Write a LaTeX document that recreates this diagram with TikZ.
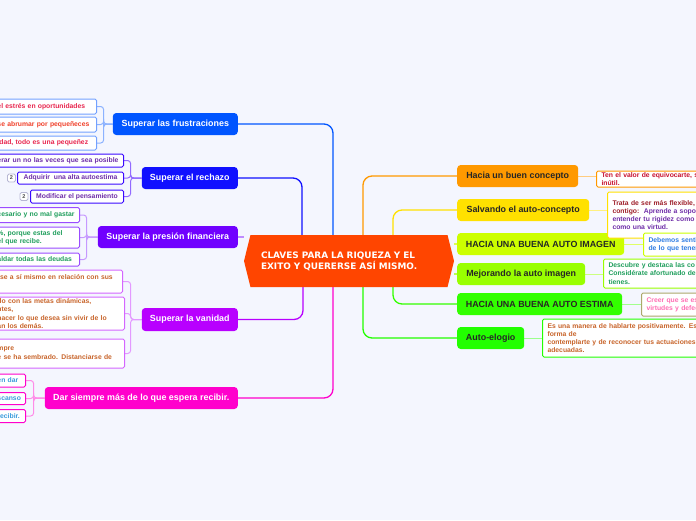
\documentclass[tikz,border=0pt]{standalone}
\usepackage{fontspec}
\setmainfont{Liberation Sans}
\newfontfamily\dejavu{DejaVu Sans}
\usepackage{tikz}
\usetikzlibrary{calc,backgrounds,shapes.symbols}

\definecolor{paper}{HTML}{F4F6FE}
\definecolor{hubc}{HTML}{FF4500}
\definecolor{frusc}{HTML}{0055FF}
\definecolor{rechc}{HTML}{1010FF}
\definecolor{presc}{HTML}{7000FF}
\definecolor{vanic}{HTML}{B800FF}
\definecolor{darc}{HTML}{FF00CC}
\definecolor{hbcc}{HTML}{FF9900}
\definecolor{salc}{HTML}{FFE100}
\definecolor{imgc}{HTML}{CCFF00}
\definecolor{mejc}{HTML}{99FF00}
\definecolor{estc}{HTML}{33FF00}
\definecolor{eloc}{HTML}{22FF00}
% leaf text colours
\definecolor{tred}{HTML}{E8264E}
\definecolor{torange}{HTML}{F0402A}
\definecolor{tpurple}{HTML}{6E2DA8}
\definecolor{tgreen}{HTML}{1F9E5C}
\definecolor{tbrown}{HTML}{C8642A}
\definecolor{tblue}{HTML}{3A9BDC}
\definecolor{tcrimson}{HTML}{C8102E}
\definecolor{tmaroon}{HTML}{9E1F2A}
\definecolor{tpink}{HTML}{FF6EB4}

\begin{document}
\begin{tikzpicture}[x=1pt,y=-1pt,
  topic/.style={fill=#1,rounded corners=3.5pt,minimum height=22pt,inner sep=0pt,
                font=\fontsize{8.9}{10}\selectfont\bfseries},
  ltopic/.style={topic=#1,text=white,anchor=east},
  rtopic/.style={topic=#1,text=black!85,anchor=west},
  leaf/.style={draw=#1,fill=white,line width=1pt,rounded corners=1.5pt,inner xsep=4pt,
               inner ysep=0pt,align=left,font=\fontsize{6.8}{8.2}\selectfont\bfseries},
  lleaf/.style={leaf=#1,anchor=east},
  rleaf/.style={leaf=#1,anchor=west,inner xsep=5pt,text width=200pt},
  badge/.style={draw=#1,fill=white,rounded corners=1.5pt,line width=0.8pt,minimum size=8pt,
                inner sep=0pt,font=\fontsize{5.5}{6}\selectfont\bfseries,text=black!70},
  trunk/.style={draw=#1,line width=1.3pt,rounded corners=9pt},
  twig/.style={draw=#1,line width=1pt,rounded corners=3pt}
]
\useasboundingbox (0,0) rectangle (696,520);
\clip (0,0) rectangle (696,520);

% centre
\node[signal,signal to=west and east,signal pointer angle=152,fill=hubc,
      minimum width=210pt,minimum height=52pt,inner sep=0pt,text width=176pt,align=left,
      text=white,font=\dejavu\fontsize{8.9}{11}\selectfont\bfseries]
      (hub) at (349,261) {CLAVES PARA LA RIQUEZA Y EL\\EXITO Y QUERERSE ASÍ MISMO.};

% left topics
\node[ltopic=frusc,minimum width=125pt] (frus) at (238,124) {Superar las frustraciones};
\node[ltopic=rechc,minimum width=96pt]  (rech) at (238,178) {Superar el rechazo};
\node[ltopic=presc,minimum width=140pt] (pres) at (238,237) {Superar la presión financiera};
\node[ltopic=vanic,minimum width=96pt,minimum height=23pt] (vani) at (238,319.5) {Superar la vanidad};
\node[ltopic=darc,minimum width=193pt]  (dar)  at (238,398) {Dar siempre más de lo que espera recibir.};

% right topics
\node[rtopic=hbcc,minimum width=121pt] (hbc) at (457,176) {Hacia un buen concepto};
\node[rtopic=salc,minimum width=132pt] (sal) at (457,210) {Salvando el auto-concepto};
\node[rtopic=imgc,minimum width=167pt] (img) at (457,244) {HACIA UNA BUENA AUTO IMAGEN};
\node[rtopic=mejc,minimum width=128pt] (mej) at (457,274) {Mejorando la auto imagen};
\node[rtopic=estc,minimum width=165pt] (est) at (457,304) {HACIA UNA BUENA AUTO ESTIMA};
\node[rtopic=eloc,minimum width=67pt]  (elo) at (457,338) {Auto-elogio};

% left leaves
\node[lleaf=frusc!55,text=tred,text width=95pt,minimum height=15pt] (l1) at (97,106.5) {el estrés en oportunidades};
\node[lleaf=frusc!55,text=torange,text width=95pt,minimum height=15pt] (l2) at (97,124.5) {se abrumar por pequeñeces};
\node[lleaf=frusc!55,text=tred,text width=95pt,minimum height=14pt] (l3) at (97,143) {idad, todo es una pequeñez};

\node[lleaf=rechc!55!presc,text=tpurple,text width=122pt,minimum height=13pt] (l4) at (124,160.5) {erar un no las veces que sea posible};
\node[lleaf=rechc!55!presc,text=tpurple,minimum width=106pt,minimum height=12pt] (l5) at (124,178) {Adquirir\ \ una alta autoestima};
\node[lleaf=rechc!55!presc,text=tpurple,minimum width=93pt,minimum height=13pt] (l6) at (124,196.5) {Modificar el pensamiento};
\node[badge=blue!25!gray!45] (b5) at (11.5,178) {2};
\node[badge=blue!25!gray!45] (b6) at (24,196.5) {2};

\node[lleaf=presc!70,text=tgreen,text width=78pt,minimum height=15pt] (l7) at (80,215) {cesario y no mal gastar};
\node[lleaf=presc!70,text=tgreen,text width=78pt,minimum height=21pt] (l8) at (80,237.5) {\%, porque estas del\\el que recibe.};
\node[lleaf=presc!70,text=tgreen,text width=78pt,minimum height=13pt] (l9) at (80,259.5) {aldar todas las deudas};

\node[lleaf=vanic!60,text=tbrown,text width=121pt,minimum height=23pt,text depth=9pt] (l10) at (123,281.5) {rse a sí mismo en relación con sus};
\node[lleaf=vanic!60,text=tbrown,text width=123pt,minimum height=33pt] (l11) at (125,313.5) {do con las metas dinámicas,\\ntes,\\hacer lo que desea sin vivir de lo\\an los demás.};
\node[lleaf=vanic!60,text=tbrown,text width=123pt,minimum height=29pt,text depth=9pt] (l12) at (125,353.5) {mpre\\e se ha sembrado. Distanciarse de};

\node[lleaf=darc,text=tblue,text width=24pt,minimum height=13pt] (l13) at (26,380.5) {en dar};
\node[lleaf=darc,text=tblue,text width=24pt,minimum height=12pt] (l14) at (26,398.5) {scanso};
\node[lleaf=darc,text=tblue,text width=24pt,minimum height=13pt] (l15) at (26,416) {recibir.};

% right leaves
\node[rleaf=hbcc,text=tcrimson,minimum height=16pt] (r1) at (596,179) {Ten el valor de equivocarte, s\\inútil.};
\node[rleaf=salc,text=tpurple,minimum height=46pt] (r2) at (607,215)
  {\textcolor{tmaroon}{Trata de ser más flexible,}\\\textcolor{tmaroon}{contigo:}\ \ Aprende a sopo\\entender tu rigidez como\\como una virtud.};
\node[rleaf=imgc,text=tblue!80!blue,minimum height=23pt] (r3) at (643,244.5) {Debemos senti\\de lo que tener};
\node[rleaf=mejc,text=tgreen,minimum height=29pt] (r4) at (603,273.5) {Descubre y destaca las co\\Considérate afortunado de\\tienes.};
\node[rleaf=estc!40!tpink,text=tpink,minimum height=23pt] (r5) at (641,304.5) {Creer que se es\\virtudes y defec};
\node[rleaf=eloc,text=tbrown,minimum height=38pt] (r6) at (542,338) {Es una manera de hablarte positivamente. Es\\forma de\\contemplarte y de reconocer tus actuaciones\\adecuadas.};

\begin{scope}[on background layer]
\fill[paper] (0,0) rectangle (696,520);
% trunks
\draw[trunk=frusc] (frus.east) -| ($(hub.north)+(-16,0)$);
\draw[trunk=rechc] (rech.east) -| ($(hub.north)+(-47,0)$);
\draw[trunk=presc!45] (pres.east) -- (pres.east -| hub.west);
\draw[trunk=vanic] (vani.east) -| ($(hub.south)+(-46,0)$);
\draw[trunk=darc] (dar.east) -| ($(hub.south)+(-16,0)$);
\draw[trunk=hbcc] ($(hub.north)+(14,0)$) |- (hbc.west);
\draw[trunk=salc] ($(hub.north)+(44,0)$) |- (sal.west);
\draw[trunk=imgc!70] (img.west) -- (img.west -| hub.east);
\draw[trunk=mejc!70] (mej.west) -- (mej.west -| hub.east);
\draw[trunk=estc] ($(hub.south)+(44,0)$) |- (est.west);
\draw[trunk=eloc] ($(hub.south)+(14,0)$) |- (elo.west);
% twigs
\foreach \l in {l1,l2,l3} \draw[twig=frusc!45] (frus.west) -- ++(-9,0) |- (\l.east);
\foreach \l in {l4,l5,l6} \draw[twig=rechc!40!presc!60] (rech.west) -- ++(-11,0) |- (\l.east);
\foreach \l in {l7,l8,l9} \draw[twig=presc!40] (pres.west) -- ++(-11,0) |- (\l.east);
\foreach \l in {l10,l11,l12} \draw[twig=vanic!40] (vani.west) -- ++(-11,0) |- (\l.east);
\foreach \l in {l13,l14,l15} \draw[twig=darc!45] (dar.west) -- ++(-11,0) |- (\l.east);
\draw[twig=hbcc!50] (hbc.east) -- (hbc.east -| r1.west);
\draw[twig=salc!50] (sal.east) -- (sal.east -| r2.west);
\draw[twig=imgc!60] (img.east) -- (img.east -| r3.west);
\draw[twig=mejc!50] (mej.east) -- (mej.east -| r4.west);
\draw[twig=estc!45] (est.east) -- (est.east -| r5.west);
\draw[twig=eloc!45] (elo.east) -- (elo.east -| r6.west);
\end{scope}
\end{tikzpicture}
\end{document}
